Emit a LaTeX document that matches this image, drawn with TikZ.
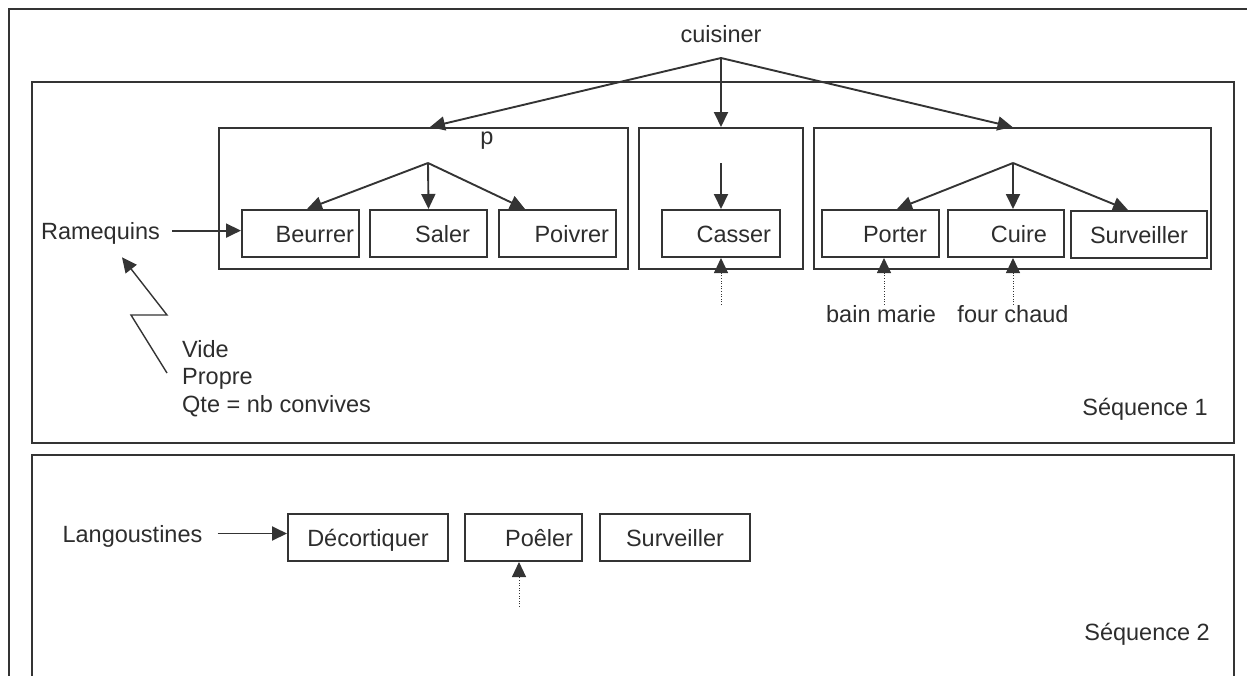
\documentclass[tikz,border=0pt]{standalone}
\usepackage{fontspec}
\setmainfont{Liberation Sans}
\usepackage{tikz}
\usetikzlibrary{positioning,arrows.meta,calc}
\definecolor{trait}{RGB}{52,52,52}
\definecolor{texte}{RGB}{45,45,45}
\tikzset{
  lbl/.style={font=\fontsize{23.5pt}{27.5pt}\selectfont,text=texte,inner sep=0pt,text height=17pt,text depth=0pt},
  tache/.style={lbl,draw=trait,line width=2pt,minimum height=47pt},
  groupe/.style={draw=trait,line width=2pt,minimum height=141pt,inner sep=0pt},
  cadre/.style={draw=trait,line width=2.2pt},
  fleche/.style={-{Triangle[length=15pt,width=14pt]},line width=1.9pt,draw=trait},
  pointille/.style={-{Triangle[length=15pt,width=14pt]},line width=1pt,draw=trait,dash pattern=on 1pt off 1.6pt},
}

\begin{document}
\begin{tikzpicture}[x=1pt,y=-1pt]
  \clip (0,0) rectangle (1247,675);
  % frames
  \draw[cadre] (9,9) rectangle (1280,700);
  \draw[cadre] (32,82) rectangle (1234,443);
  \draw[cadre] (32,455) rectangle (1234,700);
  % top
  \node[lbl] (cuisiner) at (721,33.5) {cuisiner};
  \coordinate (top) at (721,58);
  % groups of sequence 1
  \node[groupe,minimum width=409pt] (grpP) at (423.5,198.5) {};
  \node[groupe,minimum width=164pt] (grpC) at (721,198.5) {};
  \node[groupe,minimum width=397pt] (grpR) at (1012.5,198.5) {};
  \node[lbl] (p) at (487,136) {p};
  \coordinate (apP) at (428,163);
  \coordinate (apC) at (721,163);
  \coordinate (apR) at (1013,163);
  % tasks of sequence 1
  \node[tache,inner xsep=5pt,text width=107pt,align=right] (beurrer) at (300.5,233.5) {Beurrer};
  \node[tache,inner xsep=17pt,text width=83pt,align=right] (saler) at (428.5,233.5) {Saler};
  \node[tache,inner xsep=7pt,text width=103pt,align=right] (poivrer) at (557.5,233.5) {Poivrer};
  \node[tache,inner xsep=9pt,text width=100pt,align=right] (casser) at (721,233.5) {Casser};
  \node[tache,inner xsep=12pt,text width=93pt,align=right] (porter) at (880.5,233.5) {Porter};
  \node[tache,inner xsep=17pt,text width=82pt,align=right] (cuire) at (1006,233.5) {Cuire};
  \node[tache,minimum width=136pt] (survA) at (1139,234.5) {Surveiller};
  % inputs and resources
  \node[lbl] (rameq) at (100.5,230.6) {Ramequins};
  \node[lbl,anchor=north west,text height=,text depth=,align=left] (etat) at (182,340)
    {Vide\\Propre\\Qte = nb convives};
  \node[lbl] (bain) at (881,313.6) {bain marie};
  \node[lbl] (four) at (1013,313.6) {four chaud};
  \coordinate (oeufs) at (721,305);
  \node[lbl,anchor=east] (seqA) at (1208,406.6) {S\'equence 1};
  % arrows of sequence 1
  \draw[fleche] (top) -- ([xshift=6.5pt]grpP.north);
  \draw[fleche] (top) -- (grpC.north);
  \draw[fleche] (top) -- (grpR.north);
  \draw[fleche] (apP) -- ([xshift=6.5pt]beurrer.north);
  \draw[fleche] (apP) -- (saler.north);
  \draw[fleche] (apP) -- ([xshift=-32.5pt]poivrer.north);
  \draw[fleche] (apC) -- (casser.north);
  \draw[fleche] (apR) -- ([xshift=16.5pt]porter.north);
  \draw[fleche] (apR) -- ([xshift=7pt]cuire.north);
  \draw[fleche] (apR) -- ([xshift=-11pt]survA.north);
  \draw[fleche] ([xshift=12pt]rameq.east) -- (beurrer.west |- rameq.east);
  \coordinate (z1) at (167,373);
  \coordinate (z2) at (131,315);
  \coordinate (z3) at (167,315);
  \draw[-{Triangle[length=15pt,width=14pt]},line width=1.4pt,draw=trait]
    (z1) -- (z2) -- (z3) -- ([xshift=21.5pt,yshift=-18pt]rameq.south);
  \draw[pointille] (oeufs) -- (casser.south);
  \draw[pointille] ([xshift=3pt]bain.north) -- ([xshift=3.5pt]porter.south);
  \draw[pointille] (four.north) -- ([xshift=7pt]cuire.south);
  % sequence 2
  \node[lbl] (lang) at (132.5,533.5) {Langoustines};
  \node[tache,minimum width=160pt] (deco) at (368,537.5) {D\'ecortiquer};
  \node[tache,inner xsep=9pt,text width=99pt,align=right] (poeler) at (523.5,537.5) {Po\^eler};
  \node[tache,minimum width=150pt] (survB) at (675,537.5) {Surveiller};
  \coordinate (feu) at (519,607);
  \node[lbl,anchor=east] (seqB) at (1210,632) {S\'equence 2};
  \draw[fleche] ([xshift=15pt]lang.east) -- (deco.west |- lang.east);
  \draw[pointille] (feu) -- ([xshift=-4.5pt]poeler.south);
\end{tikzpicture}
\end{document}
